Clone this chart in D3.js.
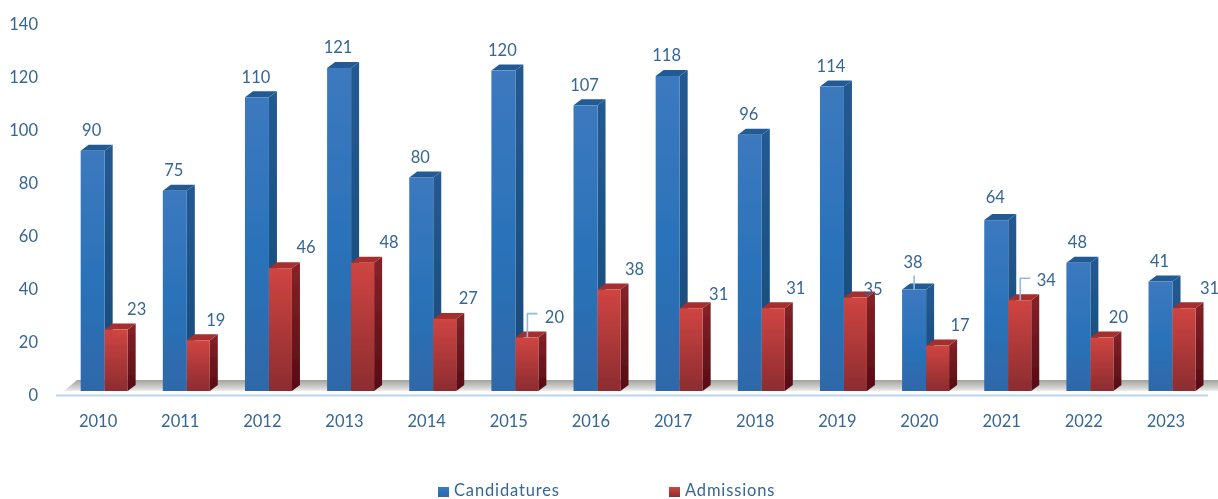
<!DOCTYPE html>
<html><head><meta charset="utf-8">
<script src="https://cdn.jsdelivr.net/npm/d3@7/dist/d3.min.js"></script>
<style>html,body{margin:0;background:#fff;overflow:hidden}svg{display:block}
text{font-family:Lato,"Open Sans",sans-serif;fill:#356696;font-size:16.5px}</style>
</head><body><svg id="c" width="1218" height="499"></svg>
<script>
const years=[2010,2011,2012,2013,2014,2015,2016,2017,2018,2019,2020,2021,2022,2023];
const candidatures=[90,75,110,121,80,120,107,118,96,114,38,64,48,41];
const admissions=[23,19,46,48,27,20,38,31,31,35,17,34,20,31];
const yTicks=[0,20,40,60,80,100,120,140];
const seriesNames=["Candidatures","Admissions"];
const redLabelDx=[20,17,25,26,23,27,25,27,22,17,22,26,16,25];
const redLabelDy=[-21,-20,-21,-21,-21,-21,-21,-14,-20,-9,-21,-20,-21,-20];

const svg=d3.select("#c");
const WB=24,WR=23,DX=8,DY=6;
const x=d3.scaleBand().domain(years).range([57,1207]);
const y=d3.scaleLinear().domain([0,140]).range([391,17.2]);
const yLab=d3.scaleLinear().domain([0,140]).range([395,24]);

const defs=svg.append("defs");
function grad(id,stops){const g=defs.append("linearGradient").attr("id",id)
  .attr("x1",0).attr("x2",0).attr("y1",0).attr("y2",1);
  stops.forEach(([o,c])=>g.append("stop").attr("offset",o).attr("stop-color",c));}
grad("bf",[[0,"#3c79bf"],[.55,"#2a72b9"],[1,"#2f68a9"]]);
grad("bs",[[0,"#235a92"],[1,"#174a78"]]);
grad("rf",[[0,"#cf4542"],[1,"#8c2c30"]]);
grad("rs",[[0,"#852328"],[1,"#560c14"]]);
grad("fl",[[0,"#a2a29e"],[.7,"#d2d2d0"],[1,"#eeeeec"]]);
defs.append("filter").attr("id","soft").append("feGaussianBlur").attr("stdDeviation",0.4);

const root=svg.append("g").attr("filter","url(#soft)");
root.append("path").attr("fill","url(#fl)")
  .attr("d",d3.line()([[64,391],[77,380],[1218,380],[1218,391]]));
root.append("line").attr("x1",x.range()[0]-1).attr("x2",x.range()[1]+1).attr("y1",395.5).attr("y2",395.5)
  .attr("stroke","#bcd6ee").attr("stroke-width",2);

function bar(g,x0,w,v,f,s,t){
  const top=y(v),b=y(0);
  g.append("path").attr("fill",`url(#${s})`).attr("d",d3.line()([[x0+w,top],[x0+w+DX,top-DY],[x0+w+DX,b-DY],[x0+w,b]]));
  g.append("path").attr("fill",t).attr("d",d3.line()([[x0,top],[x0+DX,top-DY],[x0+w+DX,top-DY],[x0+w,top]]));
  g.append("rect").attr("x",x0).attr("y",top).attr("width",w).attr("height",b-top).attr("fill",`url(#${f})`);
}
const splitX=yr=>x(yr)+x.bandwidth()/2+6.6;
years.forEach(yr=>{
  const i=years.indexOf(yr),g=root.append("g");
  bar(g,splitX(yr)-WB,WB,candidatures[i],"bf","bs","#245a93");
  bar(g,splitX(yr),WR,admissions[i],"rf","rs","#a52e2e");
});
const leaderG=root.append("g").attr("fill","none").attr("stroke","#8fb9e2").attr("stroke-width",1.6);
const cx=(i,off)=>splitX(years[i])+off;
[[5,24],[11,22]].forEach(([i,rise])=>{
  const px=cx(i,12),base=y(admissions[i]);
  leaderG.append("path").attr("d",d3.line()([[px,base],[px,base-rise],[px+10,base-rise]]));
});
leaderG.append("path").attr("d",d3.line()([[cx(10,-12),y(candidatures[10])],[cx(10,-12),y(candidatures[10])-14]]));

root.append("g").selectAll("text").data(candidatures).join("text")
  .attr("text-anchor","middle").attr("dominant-baseline","central")
  .attr("x",(d,i)=>cx(i,-13))
  .attr("y",(d,i)=>y(d)-(i===10?28:i===11?23:20.5))
  .text(d=>d);
root.append("g").selectAll("text").data(admissions).join("text")
  .attr("text-anchor","middle").attr("dominant-baseline","central")
  .attr("x",(d,i)=>cx(i,12+redLabelDx[i]))
  .attr("y",(d,i)=>y(d)+redLabelDy[i])
  .text(d=>d);

const ax=root.append("g").attr("transform","translate(0,421)")
  .call(d3.axisBottom(x).tickSize(0).tickPadding(0));
ax.select(".domain").remove();
ax.selectAll("text").attr("y",0).attr("dy","0.35em").attr("style","font-size:16.5px;font-family:Lato,sans-serif;fill:#356696");
const ay=root.append("g").attr("transform","translate(38,0)")
  .call(d3.axisLeft(yLab).tickValues(yTicks).tickSize(0).tickPadding(0));
ay.select(".domain").remove();
ay.selectAll("text").attr("style","font-size:16.5px;font-family:Lato,sans-serif;fill:#356696");

const lx=d3.scaleOrdinal().domain(seriesNames).range([438,669]);
const lg=root.append("g").selectAll("g").data(seriesNames).join("g").attr("transform",d=>`translate(${lx(d)},487)`);
lg.append("rect").attr("width",11).attr("height",10).attr("fill",(d,i)=>i?"url(#rf)":"url(#bf)");
lg.append("text").attr("x",16).attr("y",3.5).attr("dy","0.36em").style("letter-spacing","0.85px").text(d=>d);
</script></body></html>
